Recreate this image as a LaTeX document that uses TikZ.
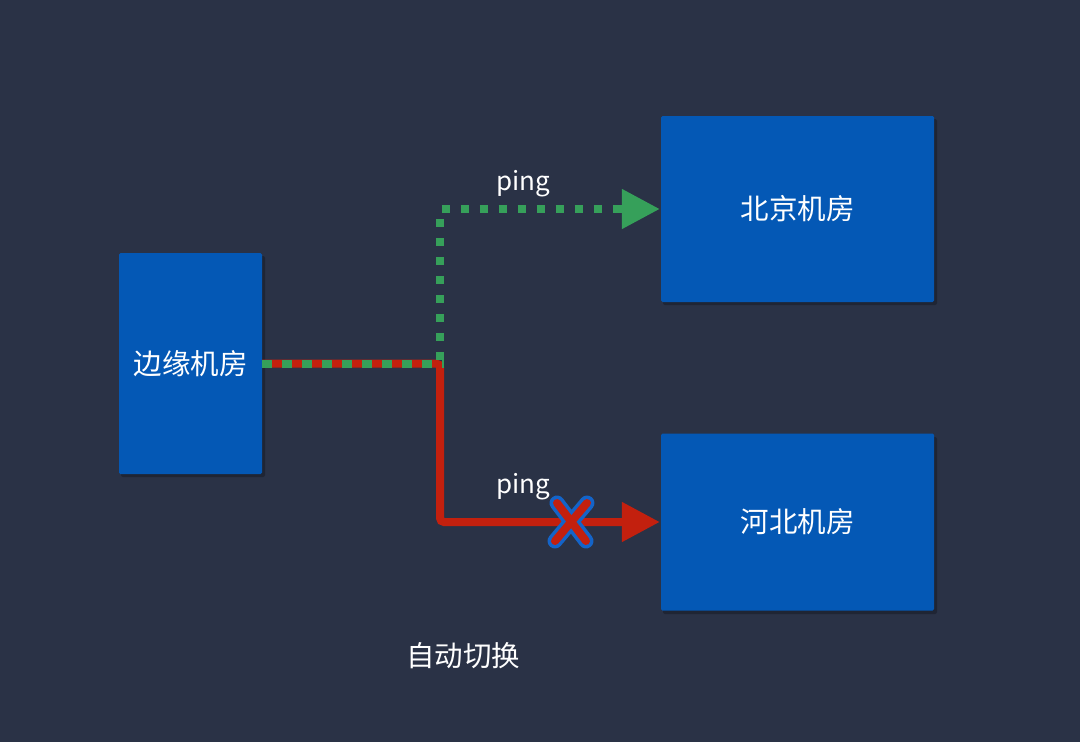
\documentclass[tikz,border=0pt]{standalone}
\usepackage{fontspec}
\setmainfont{Noto Sans CJK SC}
\usetikzlibrary{arrows.meta}
\definecolor{bg}{HTML}{2A3246}
\definecolor{boxblue}{HTML}{0458B5}
\definecolor{lgreen}{HTML}{36A05A}
\definecolor{lred}{HTML}{C3200E}
\definecolor{xblue}{HTML}{1464C8}
\tikzset{
  room/.style={fill=boxblue, draw=none, rounded corners=1.5pt, text=white, font=\fontsize{28.5}{32}\selectfont, inner sep=0pt},
  lbl/.style={text=white, font=\fontsize{26}{30}\selectfont, inner sep=0pt},
  greenline/.style={draw=lgreen, line width=8pt, dash pattern=on 8pt off 11pt},
  redline/.style={draw=lred, line width=8pt, rounded corners=4pt},
  tip/.style={-{Triangle[length=38pt,width=38pt]}},
}
\begin{document}
\begin{tikzpicture}[x=1pt,y=-1pt]
\fill[bg] (0,0) rectangle (1080,742);
\useasboundingbox (0,0) rectangle (1080,742);
% shadows
\fill[black,opacity=0.25,rounded corners=2pt] (121,256) rectangle (265,477);
\fill[black,opacity=0.25,rounded corners=2pt] (663,119) rectangle (937,305);
\fill[black,opacity=0.25,rounded corners=2pt] (663,437) rectangle (937,614);
% nodes
\node[room, minimum width=143pt, minimum height=221pt] (edge) at (190.5,363.5) {边缘机房};
\node[room, minimum width=273pt, minimum height=186pt] (bj) at (797.5,209) {北京机房};
\node[room, minimum width=273pt, minimum height=177pt] (hb) at (797.5,522) {河北机房};
\coordinate (junction) at (440,363.5);
% red path
\draw[redline, tip] (edge.east) -- (junction) |- ([xshift=-1pt]hb.west);
% green path
\draw[greenline, dash pattern=on 10pt off 10pt] (edge.east) -- ([xshift=4pt]junction);
\draw[greenline] ([yshift=4pt]junction) |- ([xshift=-40pt]bj.west);
\draw[draw=lgreen, line width=8pt, tip] ([xshift=-40pt]bj.west) -- ([xshift=-1pt]bj.west);
% labels
\node[lbl] (ping1) at (523,184) {ping};
\node[lbl] (ping2) at (523,487) {ping};
\node[lbl, font=\fontsize{28.5}{32}\selectfont] (switch) at (463,656) {自动切换};
% X mark
\begin{scope}[line cap=round]
\draw[xblue, line width=15pt] (557,503) -- (586,541) (587,503) -- (555,541);
\draw[lred, line width=8pt] (557,503) -- (586,541) (587,503) -- (555,541);
\end{scope}
\end{tikzpicture}
\end{document}
